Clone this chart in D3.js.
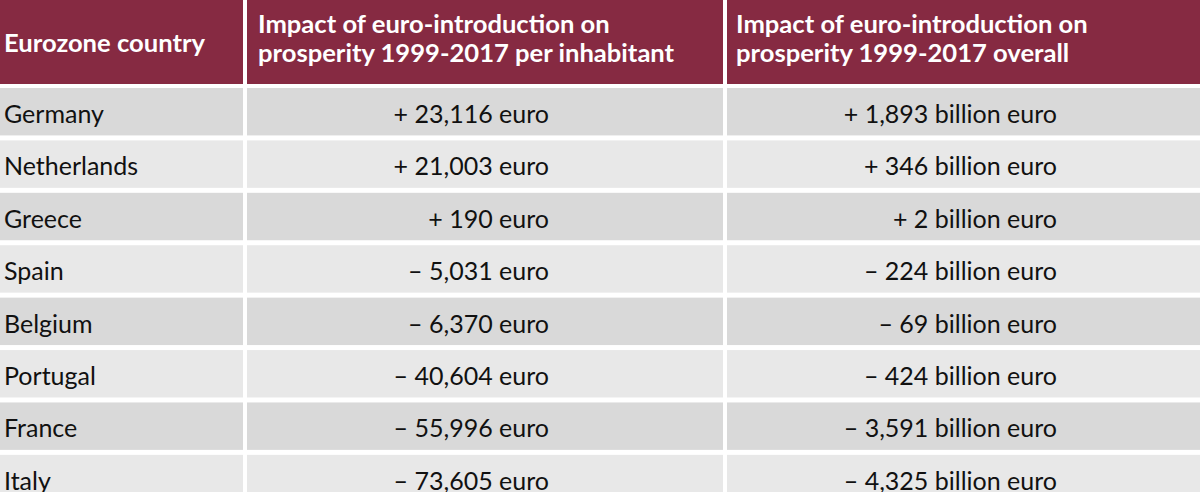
<!DOCTYPE html>
<html>
<head>
<meta charset="utf-8">
<script src="https://cdn.jsdelivr.net/npm/d3@7/dist/d3.min.js"></script>
<style>
html,body{margin:0;padding:0;background:#fff;}
svg{display:block;}
text{font-family:Lato,"Open Sans",sans-serif;}
</style>
</head>
<body>
<svg id="chart" width="1200" height="492"></svg>
<script>
const countries = ["Germany","Netherlands","Greece","Spain","Belgium","Portugal","France","Italy"];
const perInhabitant = [23116, 21003, 190, -5031, -6370, -40604, -55996, -73605];
const overallBillion = [1893, 346, 2, -224, -69, -424, -3591, -4325];
const headerCol1 = ["Eurozone country"];
const headerCol2 = ["Impact of euro-introduction on", "prosperity 1999-2017 per inhabitant"];
const headerCol3 = ["Impact of euro-introduction on", "prosperity 1999-2017 overall"];

const svg = d3.select("#chart");
const fmt = d3.format(",");
const sign = v => v >= 0 ? "+ " : "\u2013 ";

const cols = [
  {x0: 0, x1: 243},
  {x0: 247, x1: 723},
  {x0: 727, x1: 1200}
];
const headerH = 84;

const y = d3.scaleBand()
  .domain(countries)
  .range([88, 88 + 7*52.4 + 47.5])
  .paddingInner(0.095)
  .paddingOuter(0);

// header cells
svg.selectAll("rect.h").data(cols).join("rect")
  .attr("class","h")
  .attr("x", d => d.x0).attr("y", 0)
  .attr("width", d => d.x1 - d.x0).attr("height", headerH)
  .attr("fill", "#862A42");

const hdrFont = 25.6;
svg.append("text").attr("x", 4).attr("y", 52)
  .attr("fill","#fff").attr("font-weight","bold").attr("font-size", hdrFont)
  .text(headerCol1[0]);
[[headerCol2, 258],[headerCol3, 736]].forEach(([lines, x]) => {
  svg.selectAll(null).data(lines).join("text")
    .attr("x", x).attr("y", (d,i) => 33 + i*29)
    .attr("fill","#fff").attr("font-weight","bold").attr("font-size", hdrFont)
    .text(d => d);
});

// body rows
const bodyFont = 25;
const rows = svg.selectAll("g.row").data(countries).join("g")
  .attr("class","row")
  .attr("transform", d => `translate(0,${y(d)})`);

rows.each(function(c, i) {
  const g = d3.select(this);
  const fill = i % 2 === 0 ? "#D9D9D9" : "#E8E8E8";
  cols.forEach(col => {
    g.append("rect").attr("x", col.x0).attr("y", 0)
      .attr("width", col.x1 - col.x0).attr("height", y.bandwidth())
      .attr("fill", fill);
  });
  g.append("text").attr("x", 4).attr("y", 35)
    .attr("font-size", bodyFont).attr("fill","#111").text(c);
  g.append("text").attr("x", 549).attr("y", 35).attr("text-anchor","end")
    .attr("font-size", bodyFont).attr("fill","#111")
    .text(sign(perInhabitant[i]) + fmt(Math.abs(perInhabitant[i])) + " euro");
  g.append("text").attr("x", 1057).attr("y", 35).attr("text-anchor","end")
    .attr("font-size", bodyFont).attr("fill","#111")
    .text(sign(overallBillion[i]) + fmt(Math.abs(overallBillion[i])) + " billion euro");
});
</script>
</body>
</html>
